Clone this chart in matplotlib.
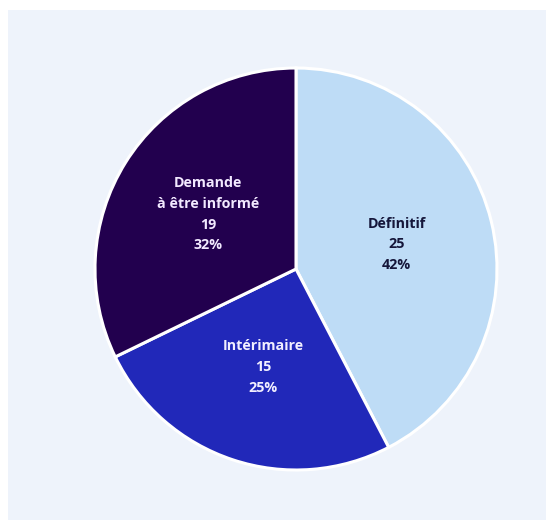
import matplotlib
matplotlib.use("Agg")
import matplotlib.pyplot as plt
from matplotlib.patches import Rectangle
import numpy as np

categories = ["Définitif", "Intérimaire", "Demande\nà être informé"]
values = [25, 15, 19]
colors = ["#bedcf6", "#2128b9", "#22004e"]
text_colors = ["#15163a", "#f2efff", "#f2e9ff"]

W, H = 553, 520
fig = plt.figure(figsize=(W / 100, H / 100), dpi=100)
fig.patch.set_facecolor("white")
fig.patches.append(Rectangle((8 / W, 0), (546 - 8) / W, (520 - 10) / H,
                             transform=fig.transFigure, facecolor="#eef3fb",
                             edgecolor="none", zorder=-10))

cx, cy, r = 296, 269, 201
m = 1.02
ra = r * m
ax = fig.add_axes([(cx - ra) / W, (H - cy - ra) / H, 2 * ra / W, 2 * ra / H])
ax.set_facecolor("none")
ax.set_zorder(5)

wedges, _ = ax.pie(values, colors=colors, startangle=90, counterclock=False,
                   radius=1.0,
                   wedgeprops=dict(edgecolor="white", linewidth=2.2))
ax.set_xlim(-m, m)
ax.set_ylim(-m, m)
ax.set_aspect("equal")
ax.axis("off")

total = sum(values)
for w, cat, v, tc in zip(wedges, categories, values, text_colors):
    ang = np.deg2rad((w.theta1 + w.theta2) / 2)
    x, y = 0.515 * np.cos(ang), 0.515 * np.sin(ang)
    pct = round(100 * v / total)
    ax.text(x, y, f"{cat}\n{v}\n{pct}%", ha="center", va="center",
            color=tc, fontsize=10.3, fontweight="bold", family="Open Sans",
            linespacing=1.62)

fig.savefig("out.png", dpi=100)
